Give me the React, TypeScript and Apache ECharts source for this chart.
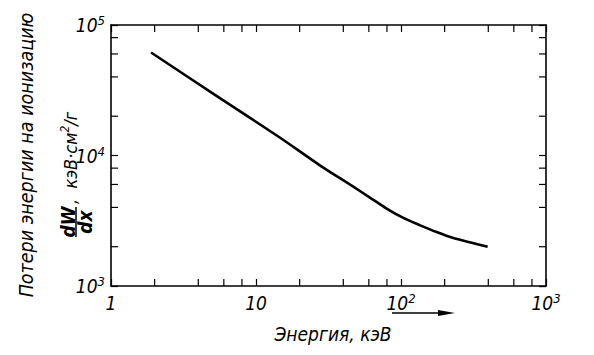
import React, { useEffect, useRef } from "react";
import * as echarts from "echarts";

// Energy, keV
const energy = [1.89, 5.15, 14.5, 27.4, 46.3, 60.7, 79.1, 103, 134.5, 176, 227, 298, 396];
// Ionization energy loss dW/dx, keV·cm²/g
const loss = [61600, 29400, 13800, 8450, 5820, 4780, 3940, 3340, 2930, 2590, 2340, 2160, 2000];

const xMinorTicks = [2, 4, 6, 8, 20, 40, 60, 80, 200, 400, 600, 800];
const yMinorTicks = [2000, 4000, 6000, 8000, 20000, 40000, 60000, 80000];

const xTitle = "Энергия, кэВ";
const yTitle1 = "Потери энергии на ионизацию";
const yTitleUnits = ",  кэВ·см";
const yTitleUnits2 = "/г";

const FONT = "'Liberation Sans Narrow', 'DejaVu Sans Condensed', 'Liberation Sans', Arial, sans-serif";

function supLabel(v: number): string {
  const p = Math.round(Math.log10(v));
  if (p === 0) return "1";
  if (p === 1) return "10";
  return "{b|10}{s|" + p + "}";
}

export default function App() {
  const ref = useRef<HTMLDivElement>(null);
  useEffect(() => {
    if (!ref.current) return;
    document.body.style.margin = "0";
    const chart = echarts.init(ref.current, undefined, { renderer: "svg" });
    const rich = {
      b: { fontSize: 19, fontStyle: "italic", fontFamily: FONT, color: "#000", lineHeight: 22 },
      s: { fontSize: 13, fontStyle: "italic", fontFamily: FONT, color: "#000", lineHeight: 13, verticalAlign: "top" },
    };
    const axisLine = { show: true, lineStyle: { color: "#000", width: 1.6 } };
    const tick = { show: true, inside: true, length: 7, lineStyle: { color: "#000", width: 1.2 } };
    const xBase = { type: "log", logBase: 10, min: 1, max: 1000, splitLine: { show: false }, axisLine, axisTick: tick };
    const yBase = { type: "log", logBase: 10, min: 1000, max: 100000, splitLine: { show: false }, axisLine, axisTick: tick };
    const tickLen = 7;
    chart.setOption({
      animation: false,
      backgroundColor: "#fff",
      grid: { left: 111, right: 48, top: 25, bottom: 69 },
      xAxis: [
        {
          ...xBase,
          position: "bottom",
          axisLabel: {
            formatter: supLabel,
            rich,
            fontSize: 19,
            fontStyle: "italic",
            fontFamily: FONT,
            color: "#000",
            lineHeight: 22,
            margin: 6,
          },
        },
        { ...xBase, position: "top", axisLabel: { show: false } },
      ],
      yAxis: [
        {
          ...yBase,
          position: "left",
          axisLabel: {
            formatter: supLabel,
            rich,
            fontSize: 19,
            fontStyle: "italic",
            fontFamily: FONT,
            color: "#000",
            margin: 6,
          },
        },
        { ...yBase, position: "right", axisLabel: { show: false } },
      ],
      series: [
        {
          type: "line",
          data: energy.map((e, i) => [e, loss[i]]),
          smooth: 0.3,
          showSymbol: false,
          lineStyle: { color: "#000", width: 2.6 },
          z: 5,
        },
        {
          type: "custom",
          data: xMinorTicks.map((v) => [v, 10000]),
          clip: false,
          renderItem: (params: any, api: any) => {
            const cs = params.coordSys;
            const px = api.coord([api.value(0), 10000])[0];
            return {
              type: "group",
              children: [
                { type: "line", shape: { x1: px, y1: cs.y + cs.height, x2: px, y2: cs.y + cs.height - tickLen }, style: { stroke: "#000", lineWidth: 1.2 } },
                { type: "line", shape: { x1: px, y1: cs.y, x2: px, y2: cs.y + tickLen }, style: { stroke: "#000", lineWidth: 1.2 } },
              ],
            };
          },
        },
        {
          type: "custom",
          data: yMinorTicks.map((v) => [10, v]),
          clip: false,
          renderItem: (params: any, api: any) => {
            const cs = params.coordSys;
            const py = api.coord([10, api.value(1)])[1];
            return {
              type: "group",
              children: [
                { type: "line", shape: { x1: cs.x, y1: py, x2: cs.x + tickLen, y2: py }, style: { stroke: "#000", lineWidth: 1.2 } },
                { type: "line", shape: { x1: cs.x + cs.width, y1: py, x2: cs.x + cs.width - tickLen, y2: py }, style: { stroke: "#000", lineWidth: 1.2 } },
              ],
            };
          },
        },
      ],
      graphic: [
        {
          type: "text",
          x: 333,
          y: 334,
          style: { text: xTitle, font: "italic 19px " + FONT, fill: "#000", textAlign: "center", textVerticalAlign: "middle" },
        },
        { type: "line", shape: { x1: 392, y1: 313, x2: 446, y2: 313 }, style: { stroke: "#000", lineWidth: 1.5 } },
        { type: "polygon", shape: { points: [[438, 310], [455, 313], [438, 316]] }, style: { fill: "#000" } },
        {
          type: "text",
          x: 26,
          y: 155,
          rotation: Math.PI / 2,
          style: { text: yTitle1, font: "italic 19.5px " + FONT, fill: "#000", textAlign: "center", textVerticalAlign: "middle" },
        },
        {
          type: "group",
          x: 76,
          y: 222,
          rotation: Math.PI / 2,
          children: [
            { type: "text", x: 0, y: -8, style: { text: "dW", font: "italic bold 19px " + FONT, fill: "#000", textAlign: "center", textVerticalAlign: "middle" } },
            { type: "line", shape: { x1: -15, y1: 0, x2: 15, y2: 0 }, style: { stroke: "#000", lineWidth: 1.5 } },
            { type: "text", x: 0, y: 9, style: { text: "dx", font: "italic bold 19px " + FONT, fill: "#000", textAlign: "center", textVerticalAlign: "middle" } },
            {
              type: "text",
              x: 18,
              y: -6,
              style: {
                text: "{a|" + yTitleUnits + "}{s|2}{a|" + yTitleUnits2 + "}",
                rich: {
                  a: { font: "italic 18px " + FONT, fill: "#000", lineHeight: 22 },
                  s: { font: "italic 12px " + FONT, fill: "#000", lineHeight: 12, verticalAlign: "top" },
                },
                textAlign: "left",
                textVerticalAlign: "middle",
              },
            },
          ],
        },
      ],
    });
    return () => chart.dispose();
  }, []);
  return <div ref={ref} style={{ width: 594, height: 355 }} />;
}
